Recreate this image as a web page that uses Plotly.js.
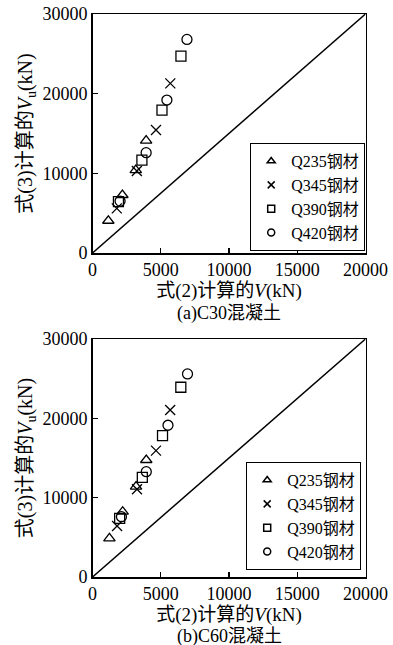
<!DOCTYPE html>
<html>
<head>
<meta charset="utf-8">
<script src="https://cdn.plot.ly/plotly-3.0.1.min.js"></script>
<style>html,body{margin:0;padding:0;background:#fff;}#chart{width:393px;height:645px;}</style>
</head>
<body>
<div id="chart"></div>
<script>
// Series names
const seriesNames = ["Q235钢材", "Q345钢材", "Q390钢材", "Q420钢材"];
// (a) C30 concrete: V from Eq.(2) (x) and Vu from Eq.(3) (y)
const c30_Q235_x = [1160, 2190, 3170, 3930];
const c30_Q235_y = [4050, 7280, 10400, 14100];
const c30_Q345_x = [1780, 3250, 4650, 5700];
const c30_Q345_y = [5600, 10290, 15430, 21290];
const c30_Q390_x = [1900, 3620, 5090, 6480];
const c30_Q390_y = [6440, 11670, 17940, 24720];
const c30_Q420_x = [2020, 3930, 5450, 6920];
const c30_Q420_y = [6520, 12590, 19200, 26810];
// (b) C60 concrete
const c60_Q235_x = [1240, 2210, 3190, 3940];
const c60_Q235_y = [4880, 8230, 11390, 14750];
const c60_Q345_x = [1800, 3260, 4650, 5690];
const c60_Q345_y = [6430, 11060, 15930, 21060];
const c60_Q390_x = [1990, 3650, 5130, 6470];
const c60_Q390_y = [7400, 12570, 17820, 23920];
const c60_Q420_x = [2120, 3940, 5530, 6960];
const c60_Q420_y = [7600, 13280, 19130, 25600];
// reference line (corner to corner)
const refX = [0, 20000];
const refY = [0, 30000];
// axis ticks
const xTicks = [0, 5000, 10000, 15000, 20000];
const yTicks = [0, 10000, 20000, 30000];
const xTitle = "式(2)计算的<i>V</i>(kN)";
const yTitle = "式(3)计算的<i>V</i><sub>u</sub>(kN)";
const captions = ["(a)C30混凝土", "(b)C60混凝土"];

const symbols = ["triangle-up-open", "x-thin-open", "square-open", "circle-open"];
const FONT = "Liberation Serif, Times New Roman, Noto Sans CJK SC, serif";

const setA = [[c30_Q235_x, c30_Q235_y], [c30_Q345_x, c30_Q345_y], [c30_Q390_x, c30_Q390_y], [c30_Q420_x, c30_Q420_y]];
const setB = [[c60_Q235_x, c60_Q235_y], [c60_Q345_x, c60_Q345_y], [c60_Q390_x, c60_Q390_y], [c60_Q420_x, c60_Q420_y]];

const traces = [];
function addPanel(set, xa, ya, legendId) {
  traces.push({x: refX, y: refY, xaxis: xa, yaxis: ya, mode: "lines",
    line: {color: "#000", width: 1.5}, showlegend: false, hoverinfo: "skip"});
  set.forEach((d, i) => {
    traces.push({x: d[0], y: d[1], xaxis: xa, yaxis: ya, mode: "markers", name: seriesNames[i],
      marker: {symbol: symbols[i], size: 10, color: "#000", line: {color: "#000", width: 1.3}},
      showlegend: false});
  });
  // legend entries with small symbols
  set.forEach((d, i) => {
    traces.push({x: [null], y: [null], xaxis: xa, yaxis: ya, mode: "markers", name: seriesNames[i],
      marker: {symbol: symbols[i], size: 7, color: "#000", line: {color: "#000", width: 1.5}},
      legend: legendId, showlegend: true});
  });
}
addPanel(setA, "x", "y", "legend");
addPanel(setB, "x2", "y2", "legend2");

const xDom = [92.5 / 393, 365.5 / 393];
const axisCommon = {
  showgrid: false, zeroline: false, showline: true, linecolor: "#000", linewidth: 1.5,
  mirror: true, ticks: "inside", ticklen: 5, tickwidth: 1.2, tickcolor: "#000",
  tickfont: {family: FONT, size: 18, color: "#000"}
};
function xaxis(anchor, dom) {
  return Object.assign({}, axisCommon, {domain: dom, anchor: anchor, range: [0, 20000],
    tickvals: xTicks, ticktext: xTicks.map(String),
    title: {text: xTitle, font: {family: FONT, size: 19, color: "#000"}, standoff: 4}});
}
function yaxis(anchor, dom) {
  return Object.assign({}, axisCommon, {domain: dom, anchor: anchor, range: [0, 30000],
    tickvals: yTicks, ticktext: yTicks.map(String),
    title: {text: yTitle, font: {family: FONT, size: 20, color: "#000"}, standoff: 4}});
}
const legendCommon = {
  bgcolor: "#fff", bordercolor: "#000", borderwidth: 1.2,
  font: {family: FONT, size: 16, color: "#000"}, xanchor: "left", yanchor: "top",
  tracegroupgap: 0, itemwidth: 30
};

const layout = {
  width: 393, height: 645,
  margin: {l: 0, r: 0, t: 0, b: 0},
  paper_bgcolor: "#fff", plot_bgcolor: "#fff",
  showlegend: true,
  font: {family: FONT, color: "#000"},
  xaxis: xaxis("y", xDom),
  yaxis: yaxis("x", [1 - 253 / 645, 1 - 14 / 645]),
  xaxis2: xaxis("y2", xDom),
  yaxis2: yaxis("x2", [1 - 577 / 645, 1 - 339 / 645]),
  legend: Object.assign({}, legendCommon, {x: 250 / 393, y: 1 - 143 / 645}),
  legend2: Object.assign({}, legendCommon, {x: 246 / 393, y: 1 - 462 / 645}),
  annotations: [
    {text: captions[0], xref: "paper", yref: "paper", x: (92.5 + 365.5) / 2 / 393, y: 1 - 313 / 645,
     xanchor: "center", yanchor: "middle", showarrow: false, font: {family: FONT, size: 18, color: "#000"}},
    {text: captions[1], xref: "paper", yref: "paper", x: (92.5 + 365.5) / 2 / 393, y: 1 - 636 / 645,
     xanchor: "center", yanchor: "middle", showarrow: false, font: {family: FONT, size: 18, color: "#000"}}
  ]
};

Plotly.newPlot("chart", traces, layout, {displayModeBar: false, staticPlot: true});
</script>
</body>
</html>
